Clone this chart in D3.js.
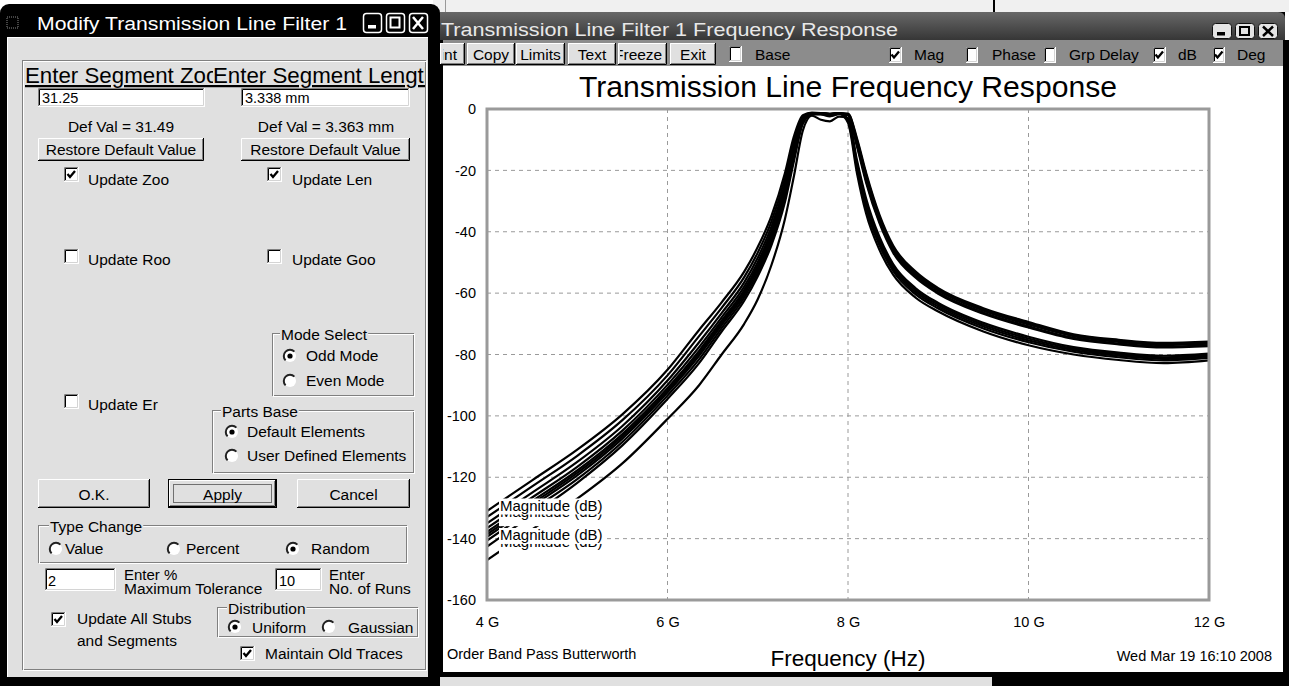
<!DOCTYPE html>
<html><head><meta charset="utf-8">
<script src="https://cdn.jsdelivr.net/npm/d3@7"></script>
<style>body{margin:0;background:#fff;overflow:hidden}svg{display:block}</style>
</head><body>
<script>
// ---------------- DATA ----------------
const freqGHz = [4.0,4.5,5.0,5.5,6.0,6.35,6.6,6.85,7.0,7.15,7.3,7.4,7.5,7.6,7.7,7.8,7.9,8.0,8.1,8.2,8.35,8.5,8.75,9.0,9.5,10.0,10.5,11.0,11.5,12.0];
const run1  = [-131,-121,-111,-99.5,-85,-72,-63,-53,-45,-35,-21,-9, -2.0,-1.2,-1.3,-1.6,-1.3,-1.5, -9.6,-20.7,-34.6,-44.5,-53,-58.4,-64.9,-69.4,-73.4,-75.2,-76.2,-75.8];
const run2  = [-133,-123,-113,-101.4,-86.8,-74,-64.8,-54.8,-46.8,-36.8,-22.8,-10.5, -2.5,-1.3,-1.5,-1.9,-1.3,-1.8, -10.8,-22.1,-35.8,-45.5,-53.9,-59.2,-65.7,-70.2,-74,-75.9,-76.9,-76.5];
const run3  = [-135,-125,-115,-103.3,-88.5,-76,-66.5,-56.5,-48.5,-38.5,-24.5,-12, -3.0,-1.4,-1.4,-1.7,-1.5,-3.2, -17.7,-30.2,-42.7,-51.3,-59,-63.8,-70.3,-74.8,-78.1,-79.9,-80.9,-80.1];
const run4  = [-136.6,-126.6,-116.6,-104.8,-89.9,-77.6,-67.9,-57.9,-49.9,-39.9,-25.9,-13.2, -3.2,-1.5,-1.6,-2.0,-1.4,-2.0, -11.7,-23.2,-36.7,-46.3,-54.5,-59.8,-66.3,-70.8,-74.6,-76.4,-77.4,-76.9];
const run5  = [-137.8,-127.8,-117.8,-105.9,-91,-78.8,-69,-59,-51,-41,-27,-14.1, -3.5,-1.5,-1.3,-1.6,-1.3,-3.8, -19.5,-32.3,-44.5,-52.8,-60.4,-65,-71.5,-76,-79.1,-80.9,-81.9,-81.1];
const run6  = [-138.6,-128.6,-118.6,-106.6,-91.7,-79.6,-69.7,-59.7,-51.7,-41.7,-27.7,-14.7, -3.8,-1.6,-1.7,-2.2,-1.6,-1.7, -10.2,-21.4,-35.2,-45,-53.4,-58.8,-65.3,-69.8,-73.7,-75.5,-76.5,-76.1];
const run7  = [-139.4,-129.4,-119.4,-107.4,-92.4,-80.4,-70.4,-60.4,-52.4,-42.4,-28.4,-15.3, -4.0,-1.6,-1.4,-1.8,-1.4,-3.5, -18.6,-31.2,-43.6,-52,-59.7,-64.4,-70.9,-75.4,-78.6,-80.4,-81.4,-80.6];
const run8  = [-140.6,-130.6,-120.6,-108.5,-93.4,-81.6,-71.4,-61.4,-53.4,-43.4,-29.4,-16.2, -4.4,-1.7,-1.5,-1.7,-1.5,-4.5, -21,-34,-46,-54,-61.5,-66,-72.5,-77,-80,-81.8,-82.8,-81.9];
const run9  = [-142.6,-132.3,-121.8,-109.6,-94.5,-82.8,-72.5,-62.5,-54.5,-44.5,-30.5,-17.1, -4.8,-1.8,-1.8,-2.4,-1.7,-2.0, -12.3,-23.9,-37.3,-46.8,-55,-60.2,-66.7,-71.2,-74.9,-76.7,-77.7,-77.3];
const run10 = [-147,-137,-127,-115.5,-101,-90,-80,-70,-62,-51,-36,-22, -7.0,-2.2,-3.5,-4.0,-2.5,-3.0, -16.8,-29.1,-41.8,-50.5,-58.4,-63.2,-69.7,-74.2,-77.6,-79.4,-80.4,-79.7];
const runs = [run1,run2,run3,run4,run5,run6,run7,run8,run9,run10];
const labelledRuns = [1,0,8,7];
const runLabel = "Magnitude (dB)";
const yTicks = [-160,-140,-120,-100,-80,-60,-40,-20,0];
const yTickLabels = ["-160","-140","-120","-100","-80","-60","-40","-20","0"];
const xTicks = [4,6,8,10,12];
const xTickLabels = ["4 G","6 G","8 G","10 G","12 G"];

// ---------------- HELPERS ----------------
const W=1289,H=686;
const FONT='"Liberation Sans", Arial, sans-serif';
const GRAY="#e0e0e0";
const svg=d3.select("body").append("svg").attr("width",W).attr("height",H);
const defs=svg.append("defs");
function clipRect(id,x,y,w,h){defs.append("clipPath").attr("id",id).append("rect").attr("x",x).attr("y",y).attr("width",w).attr("height",h);}
function rect(g,x,y,w,h,fill,o={}){const r=g.append("rect").attr("x",x).attr("y",y).attr("width",w).attr("height",h).attr("fill",fill);
  if(o.rx)r.attr("rx",o.rx);if(o.stroke)r.attr("stroke",o.stroke).attr("stroke-width",o.sw||1);return r;}
function path(g,d,c,sw=1,o={}){const p=g.append("path").attr("d",d).attr("stroke",c).attr("stroke-width",sw).attr("fill",o.fill||"none");if(o.dash)p.attr("stroke-dasharray",o.dash);return p;}
function txt(g,x,y,s,o={}){
  const t=g.append("text").attr("x",x).attr("y",y).text(s).attr("font-family",FONT)
    .attr("font-size",o.size||15.5).attr("fill",o.fill||"#000");
  if(o.anchor)t.attr("text-anchor",o.anchor);
  if(o.len)t.attr("textLength",o.len).attr("lengthAdjust","spacingAndGlyphs");
  if(o.deco)t.attr("text-decoration",o.deco);
  if(o.clip)t.attr("clip-path",`url(#${o.clip})`);
  return t;}
function raised(g,x,y,w,h){
  rect(g,x,y,w,h,GRAY);
  path(g,`M${x+.5},${y+h-1}V${y+.5}H${x+w-1}`,"#fff");
  path(g,`M${x},${y+h-.5}H${x+w-.5}V${y}`,"#000");
  path(g,`M${x+1},${y+h-1.5}H${x+w-1.5}V${y+1}`,"#808080");}
function sunken(g,x,y,w,h){
  rect(g,x,y,w,h,"#fff");
  path(g,`M${x+.5},${y+h}V${y+.5}H${x+w}`,"#808080");
  path(g,`M${x+1.5},${y+h-1}V${y+1.5}H${x+w-1}`,"#000");
  path(g,`M${x},${y+h-.5}H${x+w-.5}V${y}`,"#fff");
  path(g,`M${x+1},${y+h-1.5}H${x+w-1.5}V${y+1}`,"#d4d4d4");}
function checkbox(g,x,y,w,h,on){
  sunken(g,x,y,w,h);
  if(on){const cx=x+w/2,cy=y+h/2;
    path(g,`M${cx-4},${cy-0.5}L${cx-1.5},${cy+2.5}L${cx+3.5},${cy-3.5}`,"#000",2.3);}}
function radio(g,cx,cy,on){
  g.append("circle").attr("cx",cx).attr("cy",cy).attr("r",6).attr("fill","#fff");
  path(g,`M${cx-4.4},${cy+4.4}A6.2,6.2 0 0 1 ${cx+4.4},${cy-4.4}`,"#222",2);
  if(on)g.append("circle").attr("cx",cx).attr("cy",cy).attr("r",2.6).attr("fill","#000");}
function groupBox(g,x,y,w,h,label,lx){
  rect(g,x+.5,y+.5,w-1,h-1,"none",{stroke:"#808080"});
  rect(g,x+1.5,y+1.5,w-1,h-1,"none",{stroke:"#fff"});
  if(label){const t=txt(g,lx,y+7,label);
    const len=t.node().getComputedTextLength();
    g.insert("rect",()=>t.node()).attr("x",lx-1).attr("y",y-2).attr("width",len+2).attr("height",6).attr("fill",GRAY);}}

// ---------------- BACKGROUND ----------------
rect(svg,0,0,W,H,"#fff");
rect(svg,433,0,W-433,12,"#f0f0f0");
path(svg,"M445.5,0V12","#999",1);
path(svg,"M994,0V12","#000",2);

// ---------------- DIALOG ----------------
const dlg=svg.append("g");
rect(dlg,0,4,440,682,"#000",{rx:9});
rect(dlg,0,20,440,666,"#000");
rect(dlg,7,37,421,640,GRAY);
path(dlg,"M7.5,677V37.5H428","#fff");
rect(dlg,7,17,11,11,"none",{stroke:"#888"}).attr("stroke-dasharray","1,1");
txt(dlg,37,30,"Modify Transmission Line Filter 1",{size:18,fill:"#fff",len:310});
[363,386,409].forEach((bx,i)=>{
  rect(dlg,bx+.5,13.5,18,19,"#000",{rx:3,stroke:"#fff",sw:1.5});
  if(i===0)rect(dlg,bx+5,25,8,3.5,"#fff");
  if(i===1)rect(dlg,bx+4.5,17.5,9,10,"none",{stroke:"#fff",sw:2});
  if(i===2)path(dlg,`M${bx+4},${17}L${bx+14},${29}M${bx+14},${17}L${bx+4},${29}`,"#fff",2.5);
});
groupBox(dlg,22,60,404,610,null);
clipRect("hz",22,60,191,40);clipRect("hl",213,60,212,40);
txt(dlg,25,83,"Enter Segment Zoo",{size:22.3,clip:"hz",deco:"underline"});
txt(dlg,213,83,"Enter Segment Length",{size:22.3,clip:"hl",deco:"underline"});
sunken(dlg,38,88,167,19);txt(dlg,42,103,"31.25",{size:14.5});
sunken(dlg,241,88,169,19);txt(dlg,245,103,"3.338 mm",{size:14.5});
txt(dlg,121,132,"Def Val = 31.49",{anchor:"middle"});
txt(dlg,326,132,"Def Val = 3.363 mm",{anchor:"middle"});
raised(dlg,38,138,166,23);txt(dlg,121,155,"Restore Default Value",{anchor:"middle"});
raised(dlg,241,138,169,23);txt(dlg,325.5,155,"Restore Default Value",{anchor:"middle"});
checkbox(dlg,64,167,15,15,true);txt(dlg,88,185,"Update Zoo");
checkbox(dlg,267,167,15,15,true);txt(dlg,292,185,"Update Len");
checkbox(dlg,64,249,15,15,false);txt(dlg,88,265,"Update Roo");
checkbox(dlg,267,249,15,15,false);txt(dlg,292,265,"Update Goo");
groupBox(dlg,272,333,142,63,"Mode Select",281);
radio(dlg,290,356,true);txt(dlg,306,361,"Odd Mode");
radio(dlg,290,381,false);txt(dlg,306,386,"Even Mode");
checkbox(dlg,64,394,15,15,false);txt(dlg,88,410,"Update Er");
groupBox(dlg,212,410,202,63,"Parts Base",222);
radio(dlg,232,432,true);txt(dlg,247,437,"Default Elements");
radio(dlg,232,456,false);txt(dlg,247,461,"User Defined Elements");
raised(dlg,38,479,112,29);txt(dlg,94,500,"O.K.",{anchor:"middle"});
rect(dlg,168,479,109,29,"#000");raised(dlg,169,480,107,27);
rect(dlg,173.5,484.5,98,18,"none",{stroke:"#000"}).attr("stroke-dasharray","1,1");
txt(dlg,222.5,500,"Apply",{anchor:"middle"});
raised(dlg,297,479,113,29);txt(dlg,353.5,500,"Cancel",{anchor:"middle"});
groupBox(dlg,38,525,369,38,"Type Change",50);
radio(dlg,56,549,false);txt(dlg,65,554,"Value");
radio(dlg,174,549,false);txt(dlg,186,554,"Percent");
radio(dlg,293,549,true);txt(dlg,311,554,"Random");
sunken(dlg,45,568,71,23);txt(dlg,48,586,"2",{size:14.5});
txt(dlg,124,580,"Enter %",{size:15});txt(dlg,124,594,"Maximum Tolerance",{size:15.5});
sunken(dlg,275,568,47,23);txt(dlg,279,586,"10",{size:14.5});
txt(dlg,329,580,"Enter",{size:15});txt(dlg,329,594,"No. of Runs",{size:15.5});
checkbox(dlg,51,612,15,15,true);txt(dlg,77,624,"Update All Stubs");txt(dlg,77,646,"and Segments");
groupBox(dlg,217,607,201,30,"Distribution",228);
radio(dlg,235,627,true);txt(dlg,252,633,"Uniform");
radio(dlg,329,627,false);txt(dlg,348,633,"Gaussian");
checkbox(dlg,240,646,15,15,true);txt(dlg,265,659,"Maintain Old Traces");

// ---------------- CHART WINDOW ----------------
const win=svg.append("g");
rect(win,440,12,W-440,H-12,"#000");
const grad=defs.append("linearGradient").attr("id","tb").attr("x1",0).attr("y1",0).attr("x2",0).attr("y2",1);
grad.append("stop").attr("offset",0).attr("stop-color","#686868");
grad.append("stop").attr("offset",1).attr("stop-color","#363636");
path(win,"M440,40V12H1278Q1285,12 1285,19V40Z","none",0,{fill:"url(#tb)"});
rect(win,1285,12,4,28,"#fff");
txt(win,441,36,"Transmission Line Filter 1 Frequency Response",{size:18,fill:"#e8e8e8",len:457});
[1212,1235,1258].forEach((bx,i)=>{
  rect(win,bx+.5,23.5,19,15,"#e4e4e4",{rx:3,stroke:"#111",sw:1});
  if(i===0)rect(win,bx+5,32,8,3.5,"#000");
  if(i===1)rect(win,bx+5,27,9,8,"none",{stroke:"#000",sw:2});
  if(i===2)path(win,`M${bx+5},${26.5}L${bx+15},${36}M${bx+15},${26.5}L${bx+5},${36}`,"#000",2.5);
});
rect(win,443,40,840,26,"#8c8c8c");
// toolbar buttons
clipRect("bp",443.5,43,22,22);
raised(win,440,43,25,22);txt(win,457,60,"Print",{anchor:"end",clip:"bp"});
raised(win,467,43,48,22);txt(win,491,60,"Copy",{anchor:"middle"});
raised(win,516,43,49,22);txt(win,540.5,60,"Limits",{anchor:"middle"});
raised(win,568,43,48,22);txt(win,592,60,"Text",{anchor:"middle"});
clipRect("bf",620,43,46,22);
raised(win,618,43,49,22);txt(win,614,60,"Freeze",{clip:"bf"});
raised(win,670,43,46,22);txt(win,693,60,"Exit",{anchor:"middle"});
checkbox(win,729,46,13,16,false);txt(win,755,60,"Base");
checkbox(win,889,47,13,16,true);txt(win,914,60,"Mag");
checkbox(win,966,47,12,16,false);txt(win,992,60,"Phase");
checkbox(win,1044,47,12,16,false);txt(win,1069,60,"Grp Delay");
checkbox(win,1153,47,13,16,true);txt(win,1178,60,"dB");
checkbox(win,1213,47,12,16,true);txt(win,1237,60,"Deg");
// white panel
rect(win,443,66,840,606,"#fff");
rect(win,440,677,552,9,GRAY);

// ---------------- PLOT ----------------
const x=d3.scaleLinear().domain([4,12]).range([487,1209]);
const y=d3.scaleLinear().domain([-160,0]).range([600,109]);
const plot=svg.append("g");
// grid
plot.selectAll("line.gy").data(yTicks.filter(d=>d>-160&&d<0)).enter().append("line")
  .attr("x1",x(4)).attr("x2",x(12)).attr("y1",d=>y(d)).attr("y2",d=>y(d))
  .attr("stroke","#9a9a9a").attr("stroke-dasharray","4,4");
plot.selectAll("line.gx").data(xTicks.filter(d=>d>4&&d<12)).enter().append("line")
  .attr("x1",d=>x(d)).attr("x2",d=>x(d)).attr("y1",y(0)).attr("y2",y(-160))
  .attr("stroke","#9a9a9a").attr("stroke-dasharray","4,4");
// axes labels
const ya=plot.append("g").attr("transform",`translate(${x(4)},0)`)
  .call(d3.axisLeft(y).tickValues(yTicks).tickSize(0).tickPadding(11).tickFormat((d,i)=>yTickLabels[i]));
ya.select(".domain").remove();
ya.selectAll("text").attr("font-family",FONT).attr("font-size",14.5).attr("fill","#000");
const xa=plot.append("g").attr("transform",`translate(0,${y(-160)})`)
  .call(d3.axisBottom(x).tickValues(xTicks).tickSize(0).tickPadding(17).tickFormat((d,i)=>xTickLabels[i]));
xa.select(".domain").remove();
xa.selectAll("text").attr("font-family",FONT).attr("font-size",14.5).attr("fill","#000");
// traces
clipRect("pc",x(4),y(0)-3,x(12)-x(4),y(-160)-y(0)+3);
const line=d3.line().x((d,i)=>x(freqGHz[i])).y(d=>y(d)).curve(d3.curveMonotoneX);
plot.append("g").attr("clip-path","url(#pc)").selectAll("path").data(runs).enter().append("path")
  .attr("d",line).attr("fill","none").attr("stroke","#000").attr("stroke-width",2.2);
// frame
plot.append("rect").attr("x",x(4)).attr("y",y(0)).attr("width",x(12)-x(4)).attr("height",y(-160)-y(0))
  .attr("fill","none").attr("stroke","#9a9a9a").attr("stroke-width",3);
// run labels (overlapping, as in the original screenshot); labels drawn first get a taller backing
labelledRuns.forEach((k,i)=>{
  const by=y(runs[k][0]);
  const pad = i%2===0 ? 9 : 3.5;
  plot.append("rect").attr("x",x(4)+12).attr("y",by-12.5).attr("width",107).attr("height",12.5+pad).attr("fill","#fff");
  txt(plot,x(4)+13,by,runLabel,{size:15});
});
// titles
txt(plot,848,97,"Transmission Line Frequency Response",{size:30,anchor:"middle",len:538});
txt(plot,447,659,"Order Band Pass Butterworth",{size:14.5});
txt(plot,848,666,"Frequency (Hz)",{size:22.5,anchor:"middle"});
txt(plot,1272,661,"Wed Mar 19 16:10 2008",{size:14.5,anchor:"end"});
</script>
</body></html>
